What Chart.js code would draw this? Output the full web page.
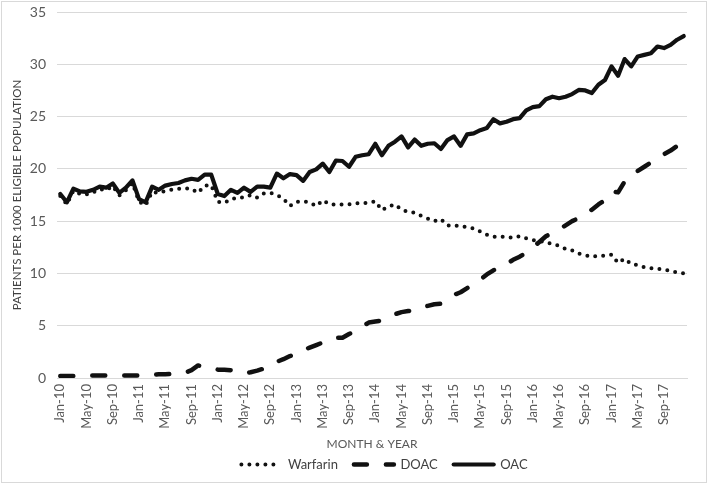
<!DOCTYPE html>
<html><head><meta charset="utf-8">
<script src="https://cdn.jsdelivr.net/npm/chart.js@4.4.1/dist/chart.umd.min.js"></script>
<style>
html,body{margin:0;padding:0;background:#fff;}
#wrap{position:relative;width:709px;height:484px;}
#frame{position:absolute;left:1px;top:1px;width:704px;height:480px;border:1px solid #d9d9d9;pointer-events:none;}
canvas{display:block;}
</style></head><body>
<div id="wrap"><canvas id="c" width="709" height="484"></canvas><div id="frame"></div></div>
<script>
const months = [
 'Jan-10','Feb-10','Mar-10','Apr-10','May-10','Jun-10','Jul-10','Aug-10','Sep-10','Oct-10','Nov-10','Dec-10',
 'Jan-11','Feb-11','Mar-11','Apr-11','May-11','Jun-11','Jul-11','Aug-11','Sep-11','Oct-11','Nov-11','Dec-11',
 'Jan-12','Feb-12','Mar-12','Apr-12','May-12','Jun-12','Jul-12','Aug-12','Sep-12','Oct-12','Nov-12','Dec-12',
 'Jan-13','Feb-13','Mar-13','Apr-13','May-13','Jun-13','Jul-13','Aug-13','Sep-13','Oct-13','Nov-13','Dec-13',
 'Jan-14','Feb-14','Mar-14','Apr-14','May-14','Jun-14','Jul-14','Aug-14','Sep-14','Oct-14','Nov-14','Dec-14',
 'Jan-15','Feb-15','Mar-15','Apr-15','May-15','Jun-15','Jul-15','Aug-15','Sep-15','Oct-15','Nov-15','Dec-15',
 'Jan-16','Feb-16','Mar-16','Apr-16','May-16','Jun-16','Jul-16','Aug-16','Sep-16','Oct-16','Nov-16','Dec-16',
 'Jan-17','Feb-17','Mar-17','Apr-17','May-17','Jun-17','Jul-17','Aug-17','Sep-17','Oct-17','Nov-17','Dec-17'
];
const warfarin = [
 17.4,16.6,17.9,17.6,17.55,17.75,18.05,17.95,18.35,17.45,17.95,18.65,
 16.85,16.5,17.8,17.7,17.9,18.0,18.1,18.15,18.1,17.7,18.4,18.45,
 16.85,16.75,17.1,17.25,17.25,17.5,17.25,17.65,17.7,17.5,17.15,16.45,
 16.85,16.9,16.8,16.45,17.0,16.6,16.6,16.6,16.6,16.7,16.7,16.75,
 16.9,16.05,16.4,16.6,16.1,15.9,15.8,15.5,15.25,15.0,15.2,14.6,
 14.55,14.55,14.4,14.3,14.0,13.7,13.5,13.5,13.5,13.4,13.55,13.35,
 13.2,13.1,13.0,12.8,12.65,12.35,12.2,11.9,11.75,11.6,11.7,11.7,
 11.8,11.0,11.4,10.9,10.8,10.6,10.5,10.45,10.35,10.25,10.1,10.0
];
const doac = [
 0.2,0.2,0.2,0.2,0.25,0.25,0.25,0.25,0.25,0.25,0.25,0.25,
 0.25,0.3,0.3,0.35,0.35,0.4,0.45,0.5,0.75,1.2,1.1,0.9,
 0.8,0.8,0.75,0.6,0.45,0.55,0.7,0.9,1.2,1.55,1.8,2.1,
 2.3,2.65,2.9,3.15,3.4,3.6,3.85,3.85,4.2,4.5,4.9,5.3,
 5.4,5.5,5.8,6.1,6.3,6.4,6.5,6.7,6.9,7.05,7.1,7.4,
 7.95,8.2,8.6,9.0,9.4,9.9,10.3,10.6,10.9,11.3,11.6,12.0,
 12.5,13.0,13.55,13.9,14.2,14.6,15.0,15.3,15.6,16.1,16.6,17.0,
 17.85,17.75,18.8,19.3,19.8,20.2,20.6,21.0,21.4,21.75,22.2,22.75
];
const oac = [
 17.6,16.8,18.1,17.85,17.8,18.0,18.3,18.2,18.6,17.7,18.2,18.9,
 17.1,16.8,18.3,18.0,18.4,18.55,18.65,18.9,19.05,18.95,19.45,19.45,
 17.6,17.4,18.0,17.7,18.2,17.8,18.3,18.3,18.2,19.55,19.1,19.5,
 19.4,18.85,19.7,19.95,20.5,19.7,20.8,20.75,20.2,21.15,21.3,21.4,
 22.4,21.3,22.2,22.6,23.1,22.05,22.8,22.2,22.4,22.45,21.9,22.75,
 23.1,22.2,23.3,23.4,23.7,23.9,24.75,24.35,24.5,24.75,24.85,25.6,
 25.9,26.0,26.65,26.9,26.75,26.9,27.15,27.55,27.5,27.25,28.05,28.5,
 29.8,28.9,30.5,29.8,30.75,30.9,31.05,31.7,31.55,31.85,32.35,32.7
];
const seriesNames = ['Warfarin','DOAC','OAC'];
const yMin = 0, yMax = 35, yStep = 5;
const xTitle = 'MONTH & YEAR';
const yTitle = 'PATIENTS PER 1000 ELIGIBLE POPULATION';

const FONT = 'Lato, "Open Sans", sans-serif';
const INK = '#111111';

const legendShift = {
  id: 'legendShift',
  afterLayout(chart) {
    const l = chart.legend;
    if (l) { l.left += 36; l.right += 36; }
  }
};

const ctx = document.getElementById('c').getContext('2d');
new Chart(ctx, {
  type: 'line',
  data: {
    labels: months,
    datasets: [
      {label: seriesNames[0], data: warfarin, borderColor: INK, backgroundColor: INK, borderWidth: 4,
       borderDash: [0, 8], borderCapStyle: 'round', pointRadius: 0, tension: 0, fill: false},
      {label: seriesNames[1], data: doac, borderColor: INK, backgroundColor: INK, borderWidth: 4.5,
       borderDash: [13, 19], borderCapStyle: 'round', borderJoinStyle: 'round', pointRadius: 0, tension: 0, fill: false},
      {label: seriesNames[2], data: oac, borderColor: INK, backgroundColor: INK, borderWidth: 4.2,
       borderJoinStyle: 'round', borderCapStyle: 'round', pointRadius: 0, tension: 0, fill: false}
    ]
  },
  plugins: [legendShift],
  options: {
    responsive: false, animation: false, devicePixelRatio: 1,
    layout: {padding: {left: 10, right: 22, top: 12, bottom: 3}},
    plugins: {
      tooltip: {enabled: false},
      legend: {
        position: 'bottom',
        labels: {
          usePointStyle: true, pointStyleWidth: 40, padding: 16,
          font: {family: FONT, size: 13}, color: '#404040',
          generateLabels(chart) {
            return chart.data.datasets.map((ds, i) => ({
              text: ds.label, pointStyle: 'line', strokeStyle: ds.borderColor, fillStyle: ds.borderColor,
              lineWidth: ds.borderWidth, lineDash: ds.borderDash || [], lineCap: 'round',
              hidden: false, datasetIndex: i, fontColor: '#404040'
            }));
          }
        }
      }
    },
    scales: {
      x: {
        offset: true,
        grid: {display: false, drawTicks: false},
        border: {display: true, color: '#d9d9d9'},
        ticks: {autoSkip: false, maxRotation: 90, minRotation: 90, padding: 6,
          font: {family: FONT, size: 13}, color: '#595959',
          callback: (v, i) => (i % 4 === 0 ? months[i] : '')},
        title: {display: true, text: xTitle, font: {family: FONT, size: 12}, color: '#595959', padding: {top: 0, bottom: -9}},
        afterFit(s) { s.height = 64; }
      },
      y: {
        min: yMin, max: yMax,
        ticks: {stepSize: yStep, padding: 11, font: {family: FONT, size: 14}, color: '#595959'},
        grid: {color: '#d9d9d9', drawTicks: false},
        border: {display: false},
        title: {display: true, text: yTitle, font: {family: FONT, size: 11.5}, color: '#404040', padding: {top: 0, bottom: 4}},
        afterFit(s) { s.width = 47; s.paddingTop = 0; s.paddingBottom = 0; }
      }
    }
  }
});
</script>
</body></html>
